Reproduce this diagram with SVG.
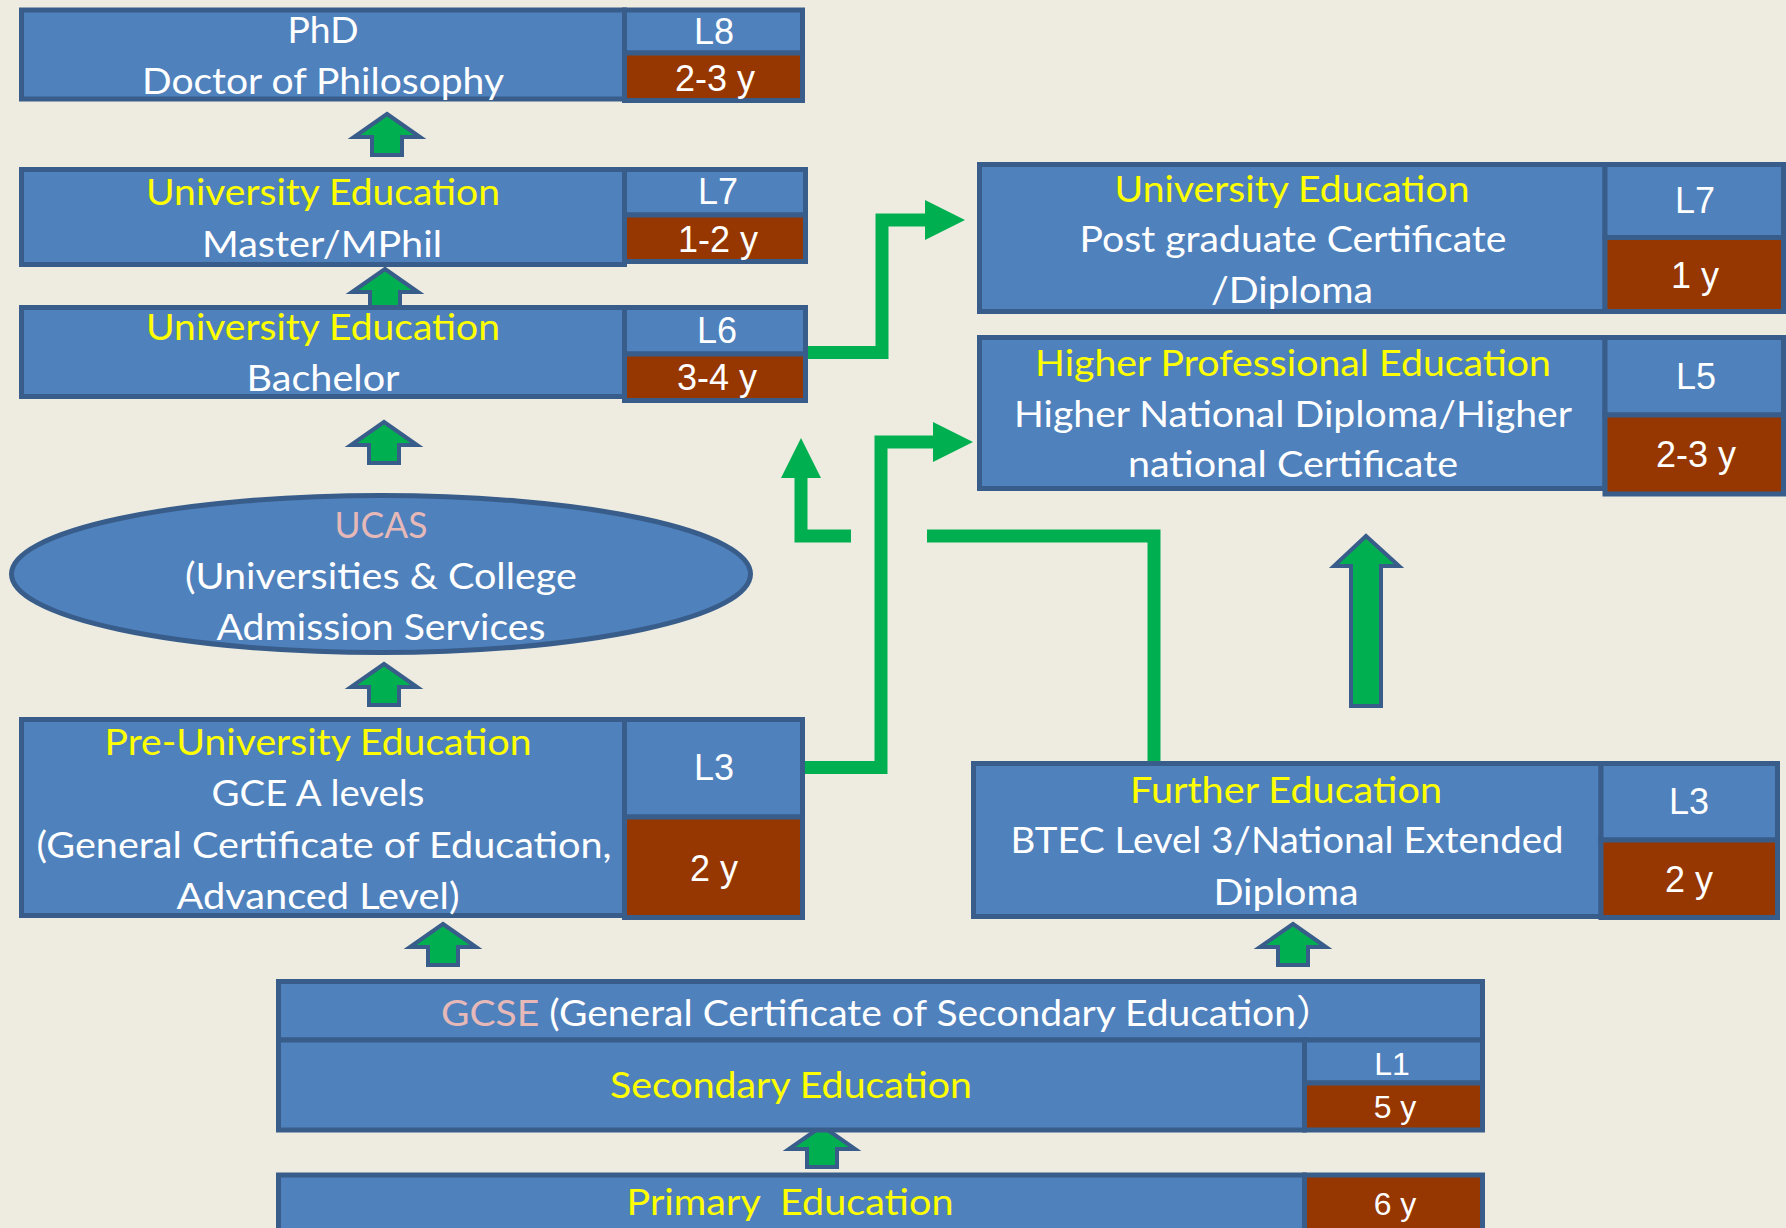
<svg xmlns="http://www.w3.org/2000/svg" width="1786" height="1228" viewBox="0 0 1786 1228">
<style>
.box{fill:#4F81BD;stroke:#385D8A;stroke-width:5}
.dur{fill:#963600;stroke:#385D8A;stroke-width:5}
.t{font-family:Lato,"Noto Sans CJK SC",sans-serif;font-size:36px;fill:#FFFFFF;text-anchor:middle}
.yl{fill:#FFFF00}
.pk{fill:#E6B9B8}
.lab{font-family:"Liberation Sans",Arial,sans-serif;font-size:36px;fill:#FFFFFF;text-anchor:middle}
.sm{font-size:32px}
.conn{fill:none;stroke:#00B050;stroke-width:13;stroke-linejoin:miter}
.blk{fill:#00B050;stroke:#385D8A;stroke-width:4;stroke-linejoin:miter}
</style>
<defs>
<marker id="ah" markerUnits="userSpaceOnUse" viewBox="0 0 40 40" markerWidth="40" markerHeight="40" refX="0" refY="20" orient="auto">
<path d="M0,0 L40,20 L0,40 Z" fill="#00B050"/>
</marker>
<path id="up" d="M0,0 L33,23 L15,23 L15,41 L-15,41 L-15,23 L-33,23 Z"/>
</defs>
<rect x="0" y="0" width="1786" height="1228" fill="#EEECE1"/>

<g id="connectors">
<use href="#up" class="blk" transform="translate(387,114)"/>
<use href="#up" class="blk" transform="translate(385,269)"/>
<use href="#up" class="blk" transform="translate(384,422)"/>
<use href="#up" class="blk" transform="translate(384,664)"/>
<use href="#up" class="blk" transform="translate(443,924)"/>
<use href="#up" class="blk" transform="translate(1293,924)"/>
<use href="#up" class="blk" transform="translate(822,1126)"/>
<path class="blk" d="M1366,536 L1399,566 L1381,566 L1381,706 L1351,706 L1351,566 L1334,566 Z"/>
<path class="conn" d="M806,352.5 H882 V220 H925" marker-end="url(#ah)"/>
<path class="conn" d="M803,767.5 H881 V442 H933" marker-end="url(#ah)"/>
<path class="conn" d="M1154,763 V536 H927"/>
<path class="conn" d="M851,536 H801 V478" marker-end="url(#ah)"/>
</g>

<g id="phd">
<rect class="box" x="21.5" y="10" width="603" height="89"/>
<rect class="box" x="624.5" y="10" width="178" height="43"/>
<rect class="dur" x="624.5" y="53" width="178" height="47.5"/>
<text class="t" x="323" y="43" textLength="71" lengthAdjust="spacingAndGlyphs">PhD</text>
<text class="t" x="323" y="94" textLength="362" lengthAdjust="spacingAndGlyphs">Doctor of Philosophy</text>
<text class="lab" x="714" y="44">L8</text>
<text class="lab" x="715" y="91">2-3 y</text>
</g>

<g id="master">
<rect class="box" x="21.5" y="169.5" width="603" height="95"/>
<rect class="box" x="624.5" y="169.5" width="181" height="45.5"/>
<rect class="dur" x="624.5" y="215" width="181" height="46.5"/>
<text class="t yl" x="323" y="205" textLength="354" lengthAdjust="spacingAndGlyphs">University Education</text>
<text class="t" x="322" y="257" textLength="240" lengthAdjust="spacingAndGlyphs">Master/MPhil</text>
<text class="lab" x="718" y="204">L7</text>
<text class="lab" x="718" y="252">1-2 y</text>
</g>

<g id="bachelor">
<rect class="box" x="21.5" y="307.5" width="603" height="89"/>
<rect class="box" x="624.5" y="307.5" width="181" height="46.5"/>
<rect class="dur" x="624.5" y="354" width="181" height="46.5"/>
<text class="t yl" x="323" y="340" textLength="354" lengthAdjust="spacingAndGlyphs">University Education</text>
<text class="t" x="323" y="391" textLength="153" lengthAdjust="spacingAndGlyphs">Bachelor</text>
<text class="lab" x="717" y="343">L6</text>
<text class="lab" x="717" y="390">3-4 y</text>
</g>

<g id="ucas">
<ellipse class="box" cx="381" cy="574" rx="369.5" ry="78.5"/>
<text class="t pk" x="381" y="538" textLength="93" lengthAdjust="spacingAndGlyphs">UCAS</text>
<text class="t" x="381" y="589" textLength="392" lengthAdjust="spacingAndGlyphs">(Universities &amp; College</text>
<text class="t" x="381" y="640" textLength="329" lengthAdjust="spacingAndGlyphs">Admission Services</text>
</g>

<g id="preuni">
<rect class="box" x="21.5" y="719.5" width="603" height="196"/>
<rect class="box" x="624.5" y="719.5" width="178" height="97.5"/>
<rect class="dur" x="624.5" y="817" width="178" height="100.5"/>
<text class="t yl" x="318" y="755" textLength="427" lengthAdjust="spacingAndGlyphs">Pre-University Education</text>
<text class="t" x="318" y="806" textLength="213" lengthAdjust="spacingAndGlyphs">GCE A levels</text>
<text class="t" x="324" y="858" textLength="575" lengthAdjust="spacingAndGlyphs">(General Certificate of Education,</text>
<text class="t" x="318" y="909" textLength="283" lengthAdjust="spacingAndGlyphs">Advanced Level)</text>
<text class="lab" x="714" y="780">L3</text>
<text class="lab" x="714" y="881">2 y</text>
</g>

<g id="pgcert">
<rect class="box" x="979.5" y="164.5" width="625.5" height="147"/>
<rect class="box" x="1605" y="164.5" width="178.5" height="73"/>
<rect class="dur" x="1605" y="237.5" width="178.5" height="74"/>
<text class="t yl" x="1292" y="202" textLength="355" lengthAdjust="spacingAndGlyphs">University Education</text>
<text class="t" x="1293" y="252" textLength="427" lengthAdjust="spacingAndGlyphs">Post graduate Certificate</text>
<text class="t" x="1292" y="303" textLength="162" lengthAdjust="spacingAndGlyphs">/Diploma</text>
<text class="lab" x="1695" y="213">L7</text>
<text class="lab" x="1695" y="288">1 y</text>
</g>

<g id="hnd">
<rect class="box" x="979.5" y="337.5" width="625.5" height="151"/>
<rect class="box" x="1605" y="337.5" width="178.5" height="77.5"/>
<rect class="dur" x="1605" y="415" width="178.5" height="79"/>
<text class="t yl" x="1293" y="376" textLength="516" lengthAdjust="spacingAndGlyphs">Higher Professional Education</text>
<text class="t" x="1293" y="427" textLength="558" lengthAdjust="spacingAndGlyphs">Higher National Diploma/Higher</text>
<text class="t" x="1293" y="477" textLength="330" lengthAdjust="spacingAndGlyphs">national Certificate</text>
<text class="lab" x="1696" y="389">L5</text>
<text class="lab" x="1696" y="467">2-3 y</text>
</g>

<g id="further">
<rect class="box" x="973.5" y="763.5" width="627.5" height="153"/>
<rect class="box" x="1601" y="763.5" width="176.5" height="76.5"/>
<rect class="dur" x="1601" y="840" width="176.5" height="77.5"/>
<text class="t yl" x="1286" y="803" textLength="312" lengthAdjust="spacingAndGlyphs">Further Education</text>
<text class="t" x="1287" y="853" textLength="553" lengthAdjust="spacingAndGlyphs">BTEC Level 3/National Extended</text>
<text class="t" x="1286" y="905" textLength="145" lengthAdjust="spacingAndGlyphs">Diploma</text>
<text class="lab" x="1689" y="814">L3</text>
<text class="lab" x="1689" y="892">2 y</text>
</g>

<g id="secondary">
<rect class="box" x="278.5" y="981.5" width="1204" height="58.5"/>
<rect class="box" x="278.5" y="1040" width="1026" height="90"/>
<rect class="box" x="1304.5" y="1040" width="178" height="43"/>
<rect class="dur" x="1304.5" y="1083" width="178" height="47"/>
<text class="t" x="441" y="1026" style="text-anchor:start" textLength="894" lengthAdjust="spacingAndGlyphs"><tspan class="pk">GCSE</tspan> (General Certificate of Secondary Education）</text>
<text class="t yl" x="791" y="1098" textLength="362" lengthAdjust="spacingAndGlyphs">Secondary Education</text>
<text class="lab sm" x="1392" y="1075">L1</text>
<text class="lab sm" x="1395" y="1118">5 y</text>
</g>

<g id="primary">
<rect class="box" x="278.5" y="1175" width="1026" height="70"/>
<rect class="dur" x="1304.5" y="1175" width="178" height="70"/>
<text class="t yl" x="790" y="1215" xml:space="preserve" textLength="327" lengthAdjust="spacingAndGlyphs">Primary  Education</text>
<text class="lab sm" x="1395" y="1215">6 y</text>
</g>
</svg>
